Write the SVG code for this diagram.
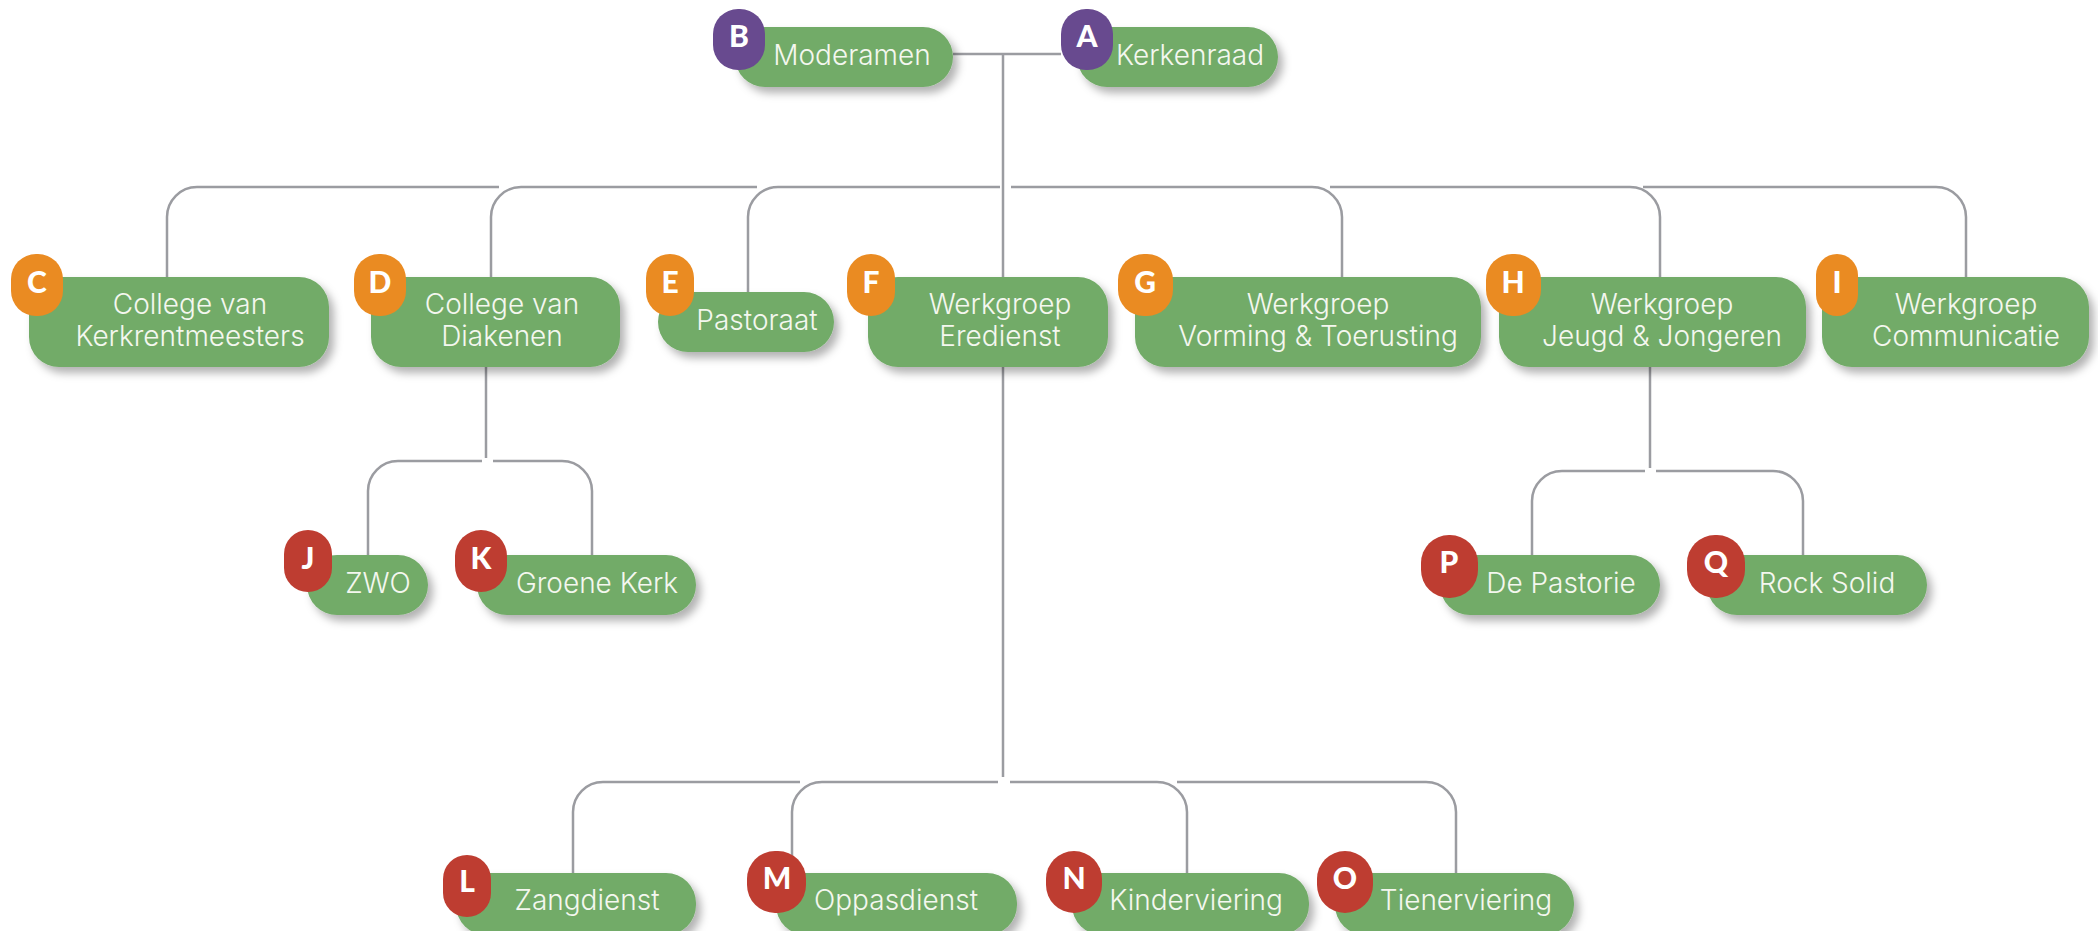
<svg xmlns="http://www.w3.org/2000/svg" width="2098" height="931" viewBox="0 0 2098 931">
<defs>
<filter id="sh" x="-10%" y="-20%" width="130%" height="160%">
<feDropShadow dx="5" dy="6" stdDeviation="4" flood-color="#000" flood-opacity="0.3"/>
</filter>
<style>
.box{fill:#72ab68;filter:url(#sh)}
.lbl{font-family:Inter,"Open Sans","Liberation Sans",sans-serif;font-weight:300;font-size:28px;fill:#f4f7ef;text-anchor:middle}
.bl{font-family:Lato,"Liberation Sans",sans-serif;font-weight:900;font-size:30px;fill:#fff;text-anchor:middle}
.pu{fill:#684a8f}
.or{fill:#ea8b22}
.rd{fill:#be3d31}
.cn{fill:none;stroke:#9b9ca1;stroke-width:2.5}
</style>
</defs>
<rect width="2098" height="931" fill="#fff"/>
<g id="connectors" class="cn">
<path d="M953 54H1061M1003 54V277M1003 367V777"/>
<path d="M167 277V217A30 30 0 0 1 197 187H499"/>
<path d="M491 277V217A30 30 0 0 1 521 187H757"/>
<path d="M748 292V217A30 30 0 0 1 778 187H1000"/>
<path d="M1342 277V217A30 30 0 0 0 1312 187H1011"/>
<path d="M1660 277V217A30 30 0 0 0 1630 187H1330"/>
<path d="M1966 277V217A30 30 0 0 0 1936 187H1643"/>
<path d="M486 367V458"/>
<path d="M368 555V491A30 30 0 0 1 398 461H482"/>
<path d="M592 555V491A30 30 0 0 0 562 461H493"/>
<path d="M1650 367V468"/>
<path d="M1532 555V501A30 30 0 0 1 1562 471H1645"/>
<path d="M1803 555V501A30 30 0 0 0 1773 471H1656"/>
<path d="M573 873V812A30 30 0 0 1 603 782H800"/>
<path d="M792 873V812A30 30 0 0 1 822 782H998"/>
<path d="M1187 873V812A30 30 0 0 0 1157 782H1010"/>
<path d="M1456 873V812A30 30 0 0 0 1426 782H1177"/>
</g>
<g id="node-B">
<rect class="box" x="735" y="27" width="218" height="60" rx="30"/>
<rect class="pu" x="713" y="9" width="52" height="61" rx="25"/>
<text class="bl" x="739" y="47">B</text>
<text class="lbl" x="852" y="65">Moderamen</text>
</g>
<g id="node-A">
<rect class="box" x="1077" y="27" width="201" height="60" rx="30"/>
<rect class="pu" x="1061" y="9" width="52" height="61" rx="25"/>
<text class="bl" x="1087" y="47">A</text>
<text class="lbl" x="1190" y="65">Kerkenraad</text>
</g>
<g id="node-C">
<rect class="box" x="29" y="277" width="300" height="90" rx="30"/>
<rect class="or" x="11" y="254" width="52" height="62" rx="25"/>
<text class="bl" x="37" y="293">C</text>
<text class="lbl" x="190" y="314">College van</text>
<text class="lbl" x="190" y="346">Kerkrentmeesters</text>
</g>
<g id="node-D">
<rect class="box" x="371" y="277" width="249" height="90" rx="30"/>
<rect class="or" x="354" y="254" width="52" height="62" rx="25"/>
<text class="bl" x="380" y="293">D</text>
<text class="lbl" x="502" y="314">College van</text>
<text class="lbl" x="502" y="346">Diakenen</text>
</g>
<g id="node-E">
<rect class="box" x="658" y="292" width="176" height="60" rx="30"/>
<rect class="or" x="646" y="254" width="48" height="62" rx="24"/>
<text class="bl" x="670" y="293">E</text>
<text class="lbl" x="757" y="330">Pastoraat</text>
</g>
<g id="node-F">
<rect class="box" x="868" y="277" width="240" height="90" rx="30"/>
<rect class="or" x="847" y="254" width="48" height="62" rx="24"/>
<text class="bl" x="871" y="293">F</text>
<text class="lbl" x="1000" y="314">Werkgroep</text>
<text class="lbl" x="1000" y="346">Eredienst</text>
</g>
<g id="node-G">
<rect class="box" x="1135" y="277" width="346" height="90" rx="30"/>
<rect class="or" x="1118" y="254" width="55" height="62" rx="26"/>
<text class="bl" x="1145" y="293">G</text>
<text class="lbl" x="1318" y="314">Werkgroep</text>
<text class="lbl" x="1318" y="346">Vorming &amp; Toerusting</text>
</g>
<g id="node-H">
<rect class="box" x="1499" y="277" width="307" height="90" rx="30"/>
<rect class="or" x="1486" y="254" width="55" height="62" rx="26"/>
<text class="bl" x="1513" y="293">H</text>
<text class="lbl" x="1662" y="314">Werkgroep</text>
<text class="lbl" x="1662" y="346">Jeugd &amp; Jongeren</text>
</g>
<g id="node-I">
<rect class="box" x="1822" y="277" width="267" height="90" rx="30"/>
<rect class="or" x="1816" y="254" width="42" height="62" rx="21"/>
<text class="bl" x="1837" y="293">I</text>
<text class="lbl" x="1966" y="314">Werkgroep</text>
<text class="lbl" x="1966" y="346">Communicatie</text>
</g>
<g id="node-J">
<rect class="box" x="307" y="555" width="121" height="60" rx="30"/>
<rect class="rd" x="284" y="530" width="48" height="62" rx="24"/>
<text class="bl" x="308" y="569">J</text>
<text class="lbl" x="378" y="593">ZWO</text>
</g>
<g id="node-K">
<rect class="box" x="477" y="555" width="219" height="60" rx="30"/>
<rect class="rd" x="455" y="530" width="52" height="62" rx="26"/>
<text class="bl" x="481" y="569">K</text>
<text class="lbl" x="597" y="593">Groene Kerk</text>
</g>
<g id="node-P">
<rect class="box" x="1440" y="555" width="220" height="60" rx="30"/>
<rect class="rd" x="1421" y="535" width="57" height="63" rx="28"/>
<text class="bl" x="1449" y="573">P</text>
<text class="lbl" x="1561" y="593">De Pastorie</text>
</g>
<g id="node-Q">
<rect class="box" x="1707" y="555" width="220" height="60" rx="30"/>
<rect class="rd" x="1687" y="535" width="58" height="63" rx="28"/>
<text class="bl" x="1716" y="573">Q</text>
<text class="lbl" x="1827" y="593">Rock Solid</text>
</g>
<g id="node-L">
<rect class="box" x="456" y="873" width="240" height="62" rx="30"/>
<rect class="rd" x="443" y="855" width="48" height="62" rx="24"/>
<text class="bl" x="467" y="892">L</text>
<text class="lbl" x="587" y="910">Zangdienst</text>
</g>
<g id="node-M">
<rect class="box" x="776" y="873" width="241" height="62" rx="30"/>
<rect class="rd" x="747" y="851" width="59" height="62" rx="28"/>
<text class="bl" x="777" y="889">M</text>
<text class="lbl" x="896" y="910">Oppasdienst</text>
</g>
<g id="node-N">
<rect class="box" x="1072" y="873" width="237" height="62" rx="30"/>
<rect class="rd" x="1046" y="851" width="56" height="62" rx="28"/>
<text class="bl" x="1074" y="889">N</text>
<text class="lbl" x="1196" y="910">Kinderviering</text>
</g>
<g id="node-O">
<rect class="box" x="1335" y="873" width="239" height="62" rx="30"/>
<rect class="rd" x="1317" y="851" width="56" height="62" rx="28"/>
<text class="bl" x="1345" y="889">O</text>
<text class="lbl" x="1466" y="910">Tienerviering</text>
</g>
</svg>
